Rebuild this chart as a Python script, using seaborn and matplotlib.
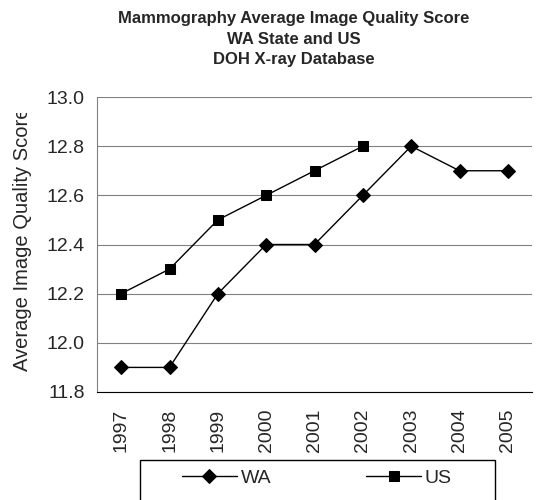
import numpy as np
import pandas as pd
import matplotlib
matplotlib.use('Agg')
import matplotlib.pyplot as plt
import seaborn as sns
from matplotlib.patches import Rectangle
from matplotlib.transforms import Bbox, TransformedBbox

sns.set_style('white')
plt.rcParams['font.family'] = ['Liberation Sans', 'DejaVu Sans']

# data
years = ['1997', '1998', '1999', '2000', '2001', '2002', '2003', '2004', '2005']
wa_scores = [11.9, 11.9, 12.2, 12.4, 12.4, 12.6, 12.8, 12.7, 12.7]
us_scores = [12.2, 12.3, 12.5, 12.6, 12.7, 12.8]

W, H = 539, 500
fig = plt.figure(figsize=(W / 100, H / 100), dpi=100)
ax = fig.add_axes([97 / W, 1 - 392 / H, (532 - 97) / W, (392 - 97) / H])

wa_df = pd.DataFrame({'pos': np.arange(len(wa_scores)), 'score': wa_scores})
us_df = pd.DataFrame({'pos': np.arange(len(us_scores)), 'score': us_scores})

sns.lineplot(data=wa_df, x='pos', y='score', ax=ax, color='black', lw=1,
             marker='D', markersize=7, markeredgecolor='black', label='WA')
sns.lineplot(data=us_df, x='pos', y='score', ax=ax, color='black', lw=1,
             marker='s', markersize=7, markeredgecolor='black', label='US')

# y axis
ax.set_ylim(11.8, 13.0)
ax.set_yticks(np.arange(11.8, 13.01, 0.2))
ax.set_yticklabels([f'{v:.1f}' for v in np.arange(11.8, 13.01, 0.2)], fontsize=14)
ax.yaxis.grid(True, color='#808080', lw=0.8)
ax.set_axisbelow(True)

# x axis: category style, ticks between the categories
ax.set_xlim(-0.5, len(years) - 0.5)
ax.set_xticks(np.arange(len(years)))
ax.set_xticklabels(years, rotation=90, fontsize=14)
ax.set_xticks(np.arange(-0.5, len(years)), minor=True)
ax.tick_params(axis='x', which='major', length=0, pad=12)
ax.tick_params(axis='x', which='minor', length=6, width=1, color='black', direction='out')
ax.tick_params(axis='y', length=6, width=1, color='#808080', direction='out', pad=3)
ax.set_xlabel('')

for s in ['top', 'right']:
    ax.spines[s].set_visible(False)
ax.spines['left'].set_color('#808080')
ax.spines['bottom'].set_color('black')

# y label, a bit above centre and clipped at the top like the original
ax.set_ylabel('Average Image Quality Score', fontsize=14.5)
ax.yaxis.set_label_coords(-0.149, 0.518)
lbl = ax.yaxis.label
lbl.set_clip_box(TransformedBbox(Bbox([[0, 0], [1, 1 - 113 / H]]), fig.transFigure))
lbl.set_clip_on(True)

# title
fig.text(294 / W, 1 - 39 / H,
         'Mammography Average Image Quality Score\nWA State and US\nDOH X-ray Database',
         ha='center', va='center', fontsize=12, fontweight='bold', linespacing=1.45)

# legend box at the bottom
ax.get_legend().remove()
handles, labels = ax.get_legend_handles_labels()
fig.legend(handles, labels, loc='center', bbox_to_anchor=(317 / W, 1 - 478 / H),
           ncol=2, frameon=False, fontsize=14, handlelength=2.8,
           handletextpad=0.2, columnspacing=4.9)
fig.patches.append(Rectangle((140 / W, -0.05), (495 - 140) / W, 0.05 + (500 - 460) / H,
                             transform=fig.transFigure, fill=False,
                             edgecolor='black', lw=1))

fig.savefig('out.png', dpi=100)
